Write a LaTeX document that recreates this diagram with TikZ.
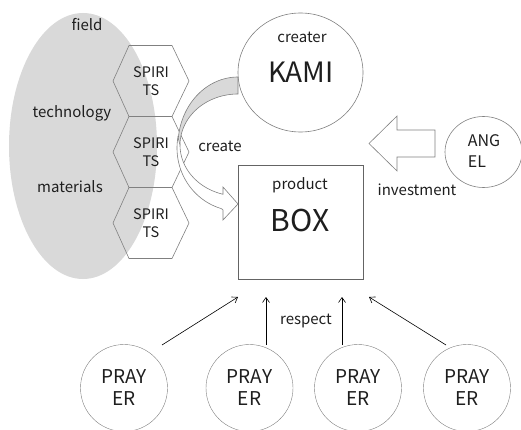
\documentclass[tikz,border=0pt]{standalone}
\usepackage{fontspec}
\setmainfont{Noto Sans CJK JP}
\usetikzlibrary{shapes.geometric,arrows.meta}
\definecolor{fieldgray}{RGB}{217,217,217}
\definecolor{linegray}{RGB}{128,128,128}
\definecolor{boxgray}{RGB}{100,100,100}
\definecolor{inkgray}{RGB}{30,30,30}
\begin{document}
\begin{tikzpicture}[x=1pt,y=-1pt,
  lbl/.style={font=\fontsize{15}{17}\selectfont, text=inkgray, inner sep=0pt},
  spirit/.style={font=\fontsize{14.5}{18}\selectfont, text=inkgray, align=center, inner sep=0pt},
  bigword/.style={font=\fontsize{30}{34}\selectfont, text=inkgray, inner sep=0pt},
  person/.style={circle, draw=linegray, minimum size=87, inner sep=0pt,
                 font=\fontsize{19}{22}\selectfont, text=inkgray, align=center},
  hexcell/.style={draw=linegray, line width=0.6pt},
  outline/.style={draw=linegray, line width=0.6pt},
  respectarrow/.style={draw=black, line width=0.6pt, -{Straight Barb[length=5pt,width=7pt]}}]
\useasboundingbox (0,0) rectangle (521,430);

% shaded field behind the spirits
\fill[fieldgray] (83,146) ellipse [x radius=74, y radius=133];

% stacked spirit hexagons
\foreach \cy in {81,152,223}{
  \draw[hexcell] (129,\cy-35.5) -- (172,\cy-35.5) -- (189,\cy) -- (172,\cy+35.5)
        -- (129,\cy+35.5) -- (113,\cy) -- cycle;
}
\node[spirit] (s1) at (151,81) {SPIRI\\TS};
\node[spirit] (s2) at (151,152) {SPIRI\\TS};
\node[spirit] (s3) at (151,223) {SPIRI\\TS};

\node[lbl] (field) at (87,25) {field};
\node[lbl] (tech) at (72,113) {technology};
\node[lbl] (mat) at (70,187) {materials};

% creator and product
\node[ellipse, outline, minimum width=125, minimum height=119, inner sep=0pt] (kami) at (300.5,72.5) {};
\node[lbl] (creater) at (302,37) {creater};
\node[bigword, font=\fontsize{28}{32}\selectfont] (kamiword) at (301,72) {KAMI};

\node[draw=boxgray, line width=0.6pt, minimum width=125, minimum height=114, inner sep=0pt] (box) at (300.5,222) {};
\node[lbl] (product) at (300,185) {product};
\node[bigword] (boxword) at (300,221) {BOX};

% curved "create" arrow: shaded back face, then the front band with its head
\filldraw[fill=fieldgray, draw=linegray, line width=0.6pt]
  plot[domain=90:180, variable=\t, samples=40] ({238+60*cos(\t)},{145-68*sin(\t)})
  -- plot[domain=180:90, variable=\t, samples=40] ({238+58*cos(\t)},{145-51*sin(\t)})
  -- cycle;
\filldraw[fill=white, draw=linegray, line width=0.6pt]
  plot[domain=170:254.2, variable=\t, samples=40] ({238+61*cos(\t)},{148-63*sin(\t)})
  -- (223,210) -- (223,220) -- (238,204) -- (223,187) -- (223,194)
  -- plot[domain=255:180, variable=\t, samples=40] ({238+58*cos(\t)},{145-51*sin(\t)})
  -- cycle;
\node[lbl] (create) at (220,146) {create};

% angel and the investment arrow
\node[ellipse, outline, minimum width=77, minimum height=71, inner sep=0pt] (angel) at (483.5,152) {};
\node[lbl, font=\fontsize{16}{21}\selectfont, align=left] (angelword) at (484,151) {ANG\\EL};
\filldraw[fill=white, draw=linegray, line width=0.6pt]
  (435,130) -- (397,130) -- (397,116) -- (369,143.5) -- (397,171) -- (397,157) -- (435,157) -- cycle;
\node[lbl] (invest) at (417,190) {investment};

% prayers
\node[person] (p1) at (124,388) {PRAY\\ER};
\node[person] (p2) at (249.5,388) {PRAY\\ER};
\node[person] (p3) at (358,388) {PRAY\\ER};
\node[person] (p4) at (467,388) {PRAY\\ER};

\coordinate (r1s) at (162,345); \coordinate (r1e) at (238,297);
\coordinate (r2s) at (266,345); \coordinate (r2e) at (266,297);
\coordinate (r3s) at (342,345); \coordinate (r3e) at (342,297);
\coordinate (r4s) at (446,345); \coordinate (r4e) at (369,297);
\draw[respectarrow] (r1s) -- (r1e);
\draw[respectarrow] (r2s) -- (r2e);
\draw[respectarrow] (r3s) -- (r3e);
\draw[respectarrow] (r4s) -- (r4e);
\node[lbl] (respect) at (306,321) {respect};
\end{tikzpicture}
\end{document}
